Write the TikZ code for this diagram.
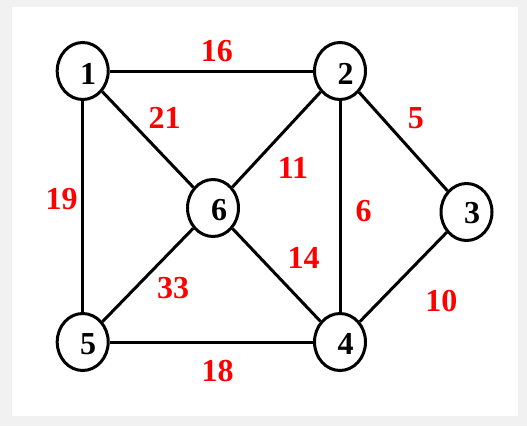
\documentclass[tikz,border=0pt]{standalone}
\usepackage{fontspec}
\setmainfont{Liberation Serif}
\usetikzlibrary{shapes.geometric}
\definecolor{bggray}{RGB}{241,241,241}
\definecolor{wred}{RGB}{255,0,0}
\begin{document}
\begin{tikzpicture}[x=1pt,y=-1pt,
  vert/.style={draw=black,line width=3pt,ellipse,minimum width=51pt,minimum height=57pt,inner sep=0pt,fill=white},
  edge/.style={draw=black,line width=3pt},
  wt/.style={text=wred,font=\fontsize{32}{32}\selectfont\bfseries,inner sep=0pt},
  num/.style={font=\fontsize{32}{32}\selectfont\bfseries,inner sep=0pt}]
\useasboundingbox (0,0) rectangle (527,426);
\fill[bggray] (0,0) rectangle (527,426);
\fill[white] (12,7) rectangle (518,416);
% vertices
\node[vert] (n1) at (82.7,71) {};
\node[vert] (n2) at (340,71) {};
\node[vert] (n3) at (466.5,212) {};
\node[vert] (n4) at (340,342) {};
\node[vert] (n5) at (82.7,342) {};
\node[vert] (n6) at (213,208) {};
% edges
\draw[edge] (n1) -- (n2);
\draw[edge] (n1) -- (n5);
\draw[edge] (n1) -- (n6);
\draw[edge] (n2) -- (n6);
\draw[edge] (n2) -- (n4);
\draw[edge] (n2) -- (n3);
\draw[edge] (n3) -- (n4);
\draw[edge] (n6) -- (n4);
\draw[edge] (n6) -- (n5);
\draw[edge] (n5) -- (n4);
% vertex numbers
\node[num] (t1) at ([shift={(5.5,2.5)}]n1.center) {1};
\node[num] (t2) at ([shift={(5.5,2.5)}]n2.center) {2};
\node[num] (t3) at ([shift={(5.5,1.5)}]n3.center) {3};
\node[num] (t4) at ([shift={(5.5,2)}]n4.center) {4};
\node[num] (t5) at ([shift={(5.5,2.5)}]n5.center) {5};
\node[num] (t6) at ([shift={(6,2.5)}]n6.center) {6};
% weights
\node[wt] (w16) at (216.8,50.7) {16};
\node[wt] (w21) at (164.7,118.3) {21};
\node[wt] (w19) at (61.5,199) {19};
\node[wt] (w11) at (293,168) {11};
\node[wt] (w5) at (415.8,118.3) {5};
\node[wt] (w6) at (363.7,210.7) {6};
\node[wt] (w14) at (303.5,258) {14};
\node[wt] (w33) at (173,287.7) {33};
\node[wt] (w10) at (441.3,300.7) {10};
\node[wt] (w18) at (217.5,370.7) {18};
\end{tikzpicture}
\end{document}
